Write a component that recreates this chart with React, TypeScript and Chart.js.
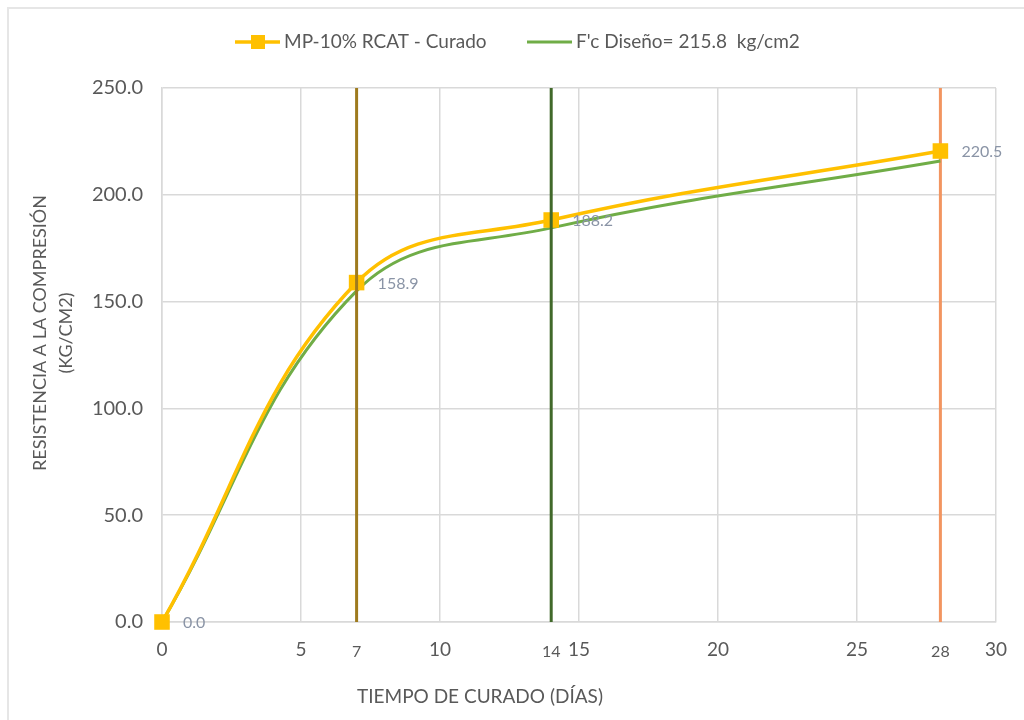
import { useEffect, useRef } from "react";
import { Chart, registerables } from "chart.js";

Chart.register(...registerables);

const days = [0, 7, 14, 28];
const curado = [0.0, 158.9, 188.2, 220.5];
const diseno = [0.0, 155.0, 184.5, 215.8];
const markerDays = [7, 14, 28];
const markerColors = ["#9E7B1E", "#41692A", "#F29560"];
const seriesNames = ["MP-10% RCAT - Curado", "F'c Diseño= 215.8  kg/cm2"];
const seriesColors = ["#FFC000", "#70AD47"];
const xTitle = "TIEMPO DE CURADO (DÍAS)";
const yTitle = ["RESISTENCIA A LA COMPRESIÓN", "(KG/CM2)"];
const xMin = 0, xMax = 30, xStep = 5;
const yMin = 0, yMax = 250, yStep = 50;

const FONT = "Lato, 'Liberation Sans', sans-serif";
const TEXT = "#595959";
const LABEL = "#8A94A6";

const extrasPlugin = {
  id: "extras",
  afterDraw(chart: any) {
    const ctx = chart.ctx;
    const xs = chart.scales.x;
    const ys = chart.scales.y;
    ctx.save();
    // legend
    ctx.font = `19px ${FONT}`;
    ctx.textBaseline = "middle";
    ctx.textAlign = "left";
    const ly = 42;
    ctx.strokeStyle = seriesColors[0];
    ctx.lineWidth = 3.5;
    ctx.beginPath(); ctx.moveTo(235, ly); ctx.lineTo(280, ly); ctx.stroke();
    ctx.fillStyle = seriesColors[0];
    ctx.fillRect(251, ly - 7, 14, 14);
    ctx.fillStyle = TEXT;
    ctx.fillText(seriesNames[0], 284, ly);
    ctx.strokeStyle = seriesColors[1];
    ctx.lineWidth = 3;
    ctx.beginPath(); ctx.moveTo(527, ly); ctx.lineTo(572, ly); ctx.stroke();
    ctx.fillStyle = TEXT;
    ctx.fillText(seriesNames[1], 576, ly);

    // data labels
    ctx.font = `16px ${FONT}`;
    ctx.fillStyle = LABEL;
    days.forEach((d, i) => {
      const px = xs.getPixelForValue(d);
      const py = ys.getPixelForValue(curado[i]);
      ctx.fillText(curado[i].toFixed(1), px + 21, py + 1);
    });

    // extra x labels
    ctx.font = `16px ${FONT}`;
    ctx.fillStyle = TEXT;
    ctx.textAlign = "center";
    markerDays.forEach((d) => {
      ctx.fillText(String(d), xs.getPixelForValue(d), 652);
    });

    // axis titles
    ctx.font = `19px ${FONT}`;
    ctx.fillStyle = TEXT;
    ctx.textAlign = "center";
    ctx.fillText(xTitle, 480, 697);
    ctx.font = `18px ${FONT}`;
    ctx.save();
    ctx.translate(40, 333);
    ctx.rotate(-Math.PI / 2);
    ctx.fillText(yTitle[0], 0, 0);
    ctx.restore();
    ctx.save();
    ctx.translate(66, 333);
    ctx.rotate(-Math.PI / 2);
    ctx.fillText(yTitle[1], 0, 0);
    ctx.restore();
    ctx.restore();
  },
};

export default function App() {
  const ref = useRef<HTMLCanvasElement>(null);
  useEffect(() => {
    if (!ref.current) return;
    const vlines = markerDays.map((d, i) => ({
      label: "v" + d,
      data: [{ x: d, y: yMin }, { x: d, y: yMax }],
      borderColor: markerColors[i],
      borderWidth: 3,
      pointRadius: 0,
      showLine: true,
      tension: 0,
    }));
    const chart = new Chart(ref.current, {
      type: "scatter",
      data: {
        datasets: [
          vlines[0],
          vlines[1],
          {
            label: seriesNames[0],
            data: days.map((d, i) => ({ x: d, y: curado[i] })),
            borderColor: seriesColors[0],
            backgroundColor: seriesColors[0],
            borderWidth: 3.5,
            showLine: true,
            tension: 0.4,
            pointStyle: "rect",
            pointRadius: 11,
            pointBorderWidth: 0,
            clip: false,
          } as any,
          {
            label: seriesNames[1],
            data: days.map((d, i) => ({ x: d, y: diseno[i] })),
            borderColor: seriesColors[1],
            backgroundColor: seriesColors[1],
            borderWidth: 3,
            showLine: true,
            tension: 0.4,
            pointRadius: 0,
            clip: false,
          } as any,
          vlines[2],
        ],
      },
      options: {
        responsive: false,
        animation: false,
        devicePixelRatio: 1,
        layout: { padding: { top: 88, right: 28, left: 0, bottom: 0 } },
        plugins: { legend: { display: false }, tooltip: { enabled: false } },
        scales: {
          x: {
            type: "linear",
            min: xMin,
            max: xMax,
            ticks: { stepSize: xStep, color: TEXT, font: { family: FONT, size: 19 }, padding: 16 },
            grid: { color: "#D9D9D9", lineWidth: 1.5, drawTicks: false },
            border: { color: "#D9D9D9", width: 1.5 },
            afterFit: (s: any) => { s.height = 98; },
          },
          y: {
            type: "linear",
            min: yMin,
            max: yMax,
            ticks: {
              stepSize: yStep,
              color: TEXT,
              font: { family: FONT, size: 20 },
              padding: 19,
              callback: (v: any) => Number(v).toFixed(1),
            },
            grid: { color: "#D9D9D9", lineWidth: 1.5, drawTicks: false },
            border: { color: "#D9D9D9", width: 1.5 },
            afterFit: (s: any) => { s.width = 162; },
          },
        },
      } as any,
      plugins: [extrasPlugin],
    });
    return () => chart.destroy();
  }, []);
  return (
    <div style={{ position: "absolute", left: 0, top: 0, width: 1024, height: 720, overflow: "hidden", background: "#fff" }}>
      <canvas ref={ref} width={1024} height={720} style={{ display: "block" }} />
      <div
        style={{
          position: "absolute",
          left: 7,
          top: 7,
          right: 0,
          bottom: 0,
          borderLeft: "2px solid #E6E6E6",
          borderTop: "2px solid #E6E6E6",
          pointerEvents: "none",
        }}
      />
    </div>
  );
}
